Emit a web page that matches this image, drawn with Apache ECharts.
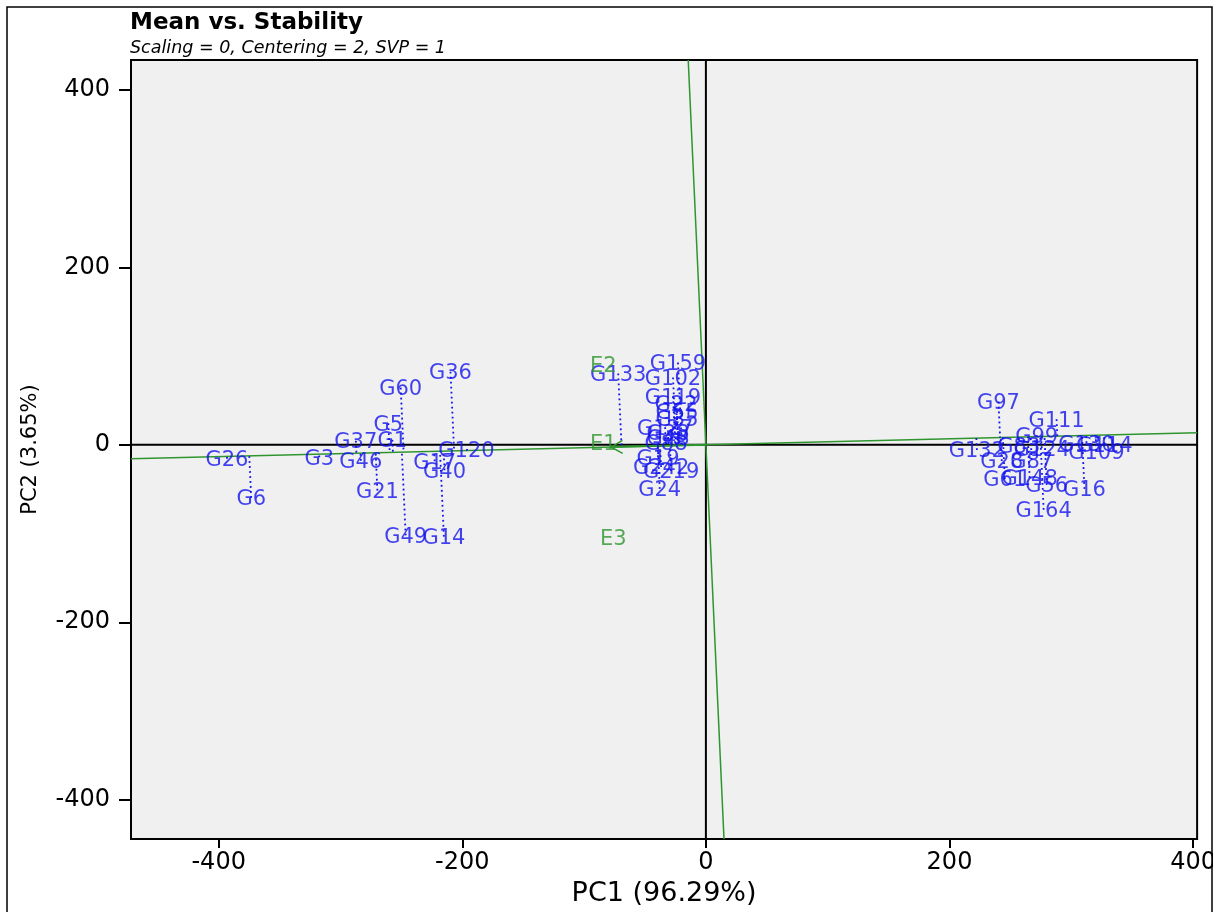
<!DOCTYPE html>
<html>
<head>
<meta charset="utf-8">
<script src="https://cdn.jsdelivr.net/npm/echarts@6/dist/echarts.min.js"></script>
<style>html,body{margin:0;padding:0;background:#fff;}#chart{width:1219px;height:912px;}</style>
</head>
<body>
<div id="chart"></div>
<script>
// ---- data ----
const genoNames = ['G36','G60','G5','G37','G1','G26','G6','G3','G46','G21','G120','G17','G40','G49','G14',
  'G159','G133','G102','G119','G22','G55','G35','G127','G38','G48','G88','G19','G242','G219','G24',
  'G97','G111','G99','G132','G83','G124','G130','G114','G109','G28','G87','G61','G148','G56','G16','G164'];
const genoPC1 = [-209.7,-250.6,-260.7,-287.4,-257.4,-393.2,-373.3,-317.4,-283.3,-269.7,-196.6,-222.7,-214.6,-246.5,-215.1,
  -22.9,-72.0,-27.0,-27.0,-24.5,-23.7,-23.7,-33.5,-31.1,-31.1,-32.7,-39.3,-36.8,-28.6,-37.9,
  240.2,287.9,271.6,222.5,256.9,275.7,312.5,327.2,320.6,242.9,267.5,245.4,265.8,279.8,310.8,277.3];
const genoPC2 = [82.3,64.4,24.3,4.5,5.6,-15.7,-59.8,-14.1,-17.9,-51.6,-4.8,-18.6,-28.7,-102.1,-103.5,
  92.7,80.4,75.9,54.6,46.8,37.8,29.9,19.8,14.2,8.6,3.0,-13.8,-25.0,-29.5,-49.7,
  48.7,28.8,10.9,-5.9,-0.3,-3.7,1.9,0.8,-7.1,-18.3,-17.2,-38.5,-37.3,-45.2,-49.7,-73.2];
const envNames = ['E1','E2','E3'];
const envPC1 = [-84.3,-84.3,-76.1];
const envPC2 = [3.0,90.5,-104.0];
const aec = [-77.7,-2.6];           // average environment coordinate (arrow tip)
const xTicks = [-400,-200,0,200,400];
const yTicks = [-400,-200,0,200,400];
const xMin = -472, xMax = 403.3, yMin = -444.4, yMax = 433.7;

// ---- derived geometry ----
const s = aec[1] / aec[0];  // slope of AEC abscissa
const abscissa = [[xMin, s * xMin], [xMax, s * xMax]];
const ordinate = [[-s * yMax, yMax], [-s * yMin, yMin]];
const proj = genoNames.map((n, i) => {
  const t = (genoPC1[i] + s * genoPC2[i]) / (1 + s * s);
  return { coords: [[genoPC1[i], genoPC2[i]], [t, s * t]] };
});
const genoPts = genoNames.map((n, i) => ({ name: n, value: [genoPC1[i], genoPC2[i]] }));
const envPts = envNames.map((n, i) => ({ name: n, value: [envPC1[i], envPC2[i]] }));

const BLUE = '#1414ee', GREEN = '#2f962f', FONT = 'DejaVu Sans';

const chart = echarts.init(document.getElementById('chart'), null, { renderer: 'canvas' });
chart.setOption({
  animation: false,
  backgroundColor: '#ffffff',
  title: {
    text: 'Mean vs. Stability',
    subtext: 'Scaling = 0, Centering = 2, SVP = 1',
    left: 130, top: 12, itemGap: 4, padding: 0,
    textStyle: { fontFamily: FONT, fontSize: 23, fontWeight: 'bold', color: '#000' },
    subtextStyle: { fontFamily: FONT, fontSize: 17.5, fontStyle: 'italic', color: '#000' }
  },
  grid: { left: 131, right: 18, top: 60, bottom: 69, show: true, backgroundColor: '#f0f0f0', borderColor: '#000', borderWidth: 2 },
  xAxis: {
    type: 'value', min: xMin, max: xMax,
    name: 'PC1 (96.29%)', nameLocation: 'middle', nameGap: 35,
    nameTextStyle: { fontFamily: FONT, fontSize: 27, color: '#000' },
    axisLine: { show: false, onZero: false },
    splitLine: { show: false },
    axisTick: { show: true, length: 9, customValues: xTicks, lineStyle: { color: '#000', width: 2 } },
    axisLabel: { customValues: xTicks, fontFamily: FONT, fontSize: 24, color: '#000', margin: 12 }
  },
  yAxis: {
    type: 'value', min: yMin, max: yMax,
    name: 'PC2 (3.65%)', nameLocation: 'middle', nameGap: 90,
    nameTextStyle: { fontFamily: FONT, fontSize: 21, color: '#000' },
    axisLine: { show: false, onZero: false },
    splitLine: { show: false },
    axisTick: { show: true, length: 12, customValues: yTicks, lineStyle: { color: '#000', width: 2 } },
    axisLabel: { customValues: yTicks, fontFamily: FONT, fontSize: 24, color: '#000', margin: 21 }
  },
  graphic: [
    { type: 'rect', z: 100, shape: { x: 7, y: 7, width: 1205, height: 920 }, style: { fill: null, stroke: '#000', lineWidth: 1.5 } },
    { type: 'rect', z: 99, shape: { x: 1213, y: 0, width: 10, height: 912 }, style: { fill: '#fff' } }
  ],
  series: [
    { type: 'line', data: [[xMin, 0], [xMax, 0]], symbol: 'none', z: 2, silent: true,
      lineStyle: { color: '#000', width: 2 } },
    { type: 'line', data: [[0, yMin], [0, yMax]], symbol: 'none', z: 2, silent: true,
      lineStyle: { color: '#000', width: 2 } },
    { type: 'line', data: abscissa, symbol: 'none', z: 3, silent: true,
      lineStyle: { color: GREEN, width: 1.5 } },
    { type: 'line', data: ordinate, symbol: 'none', z: 3, silent: true,
      lineStyle: { color: GREEN, width: 1.5 } },
    { type: 'lines', coordinateSystem: 'cartesian2d', data: proj, z: 4, silent: true,
      lineStyle: { color: BLUE, width: 1.8, type: [1.8, 3.2], opacity: 1 } },
    { type: 'custom', z: 5, silent: true, data: [[aec[0], aec[1]]],
      renderItem: function (params, api) {
        const o = api.coord([0, 0]);
        const p = api.coord([api.value(0), api.value(1)]);
        const ang = Math.atan2(o[1] - p[1], o[0] - p[0]);
        const L = 13, a = Math.PI / 6;
        const h1 = [p[0] + L * Math.cos(ang + a), p[1] + L * Math.sin(ang + a)];
        const h2 = [p[0] + L * Math.cos(ang - a), p[1] + L * Math.sin(ang - a)];
        return { type: 'group', children: [
          { type: 'line', shape: { x1: o[0], y1: o[1], x2: p[0], y2: p[1] }, style: { stroke: GREEN, lineWidth: 2 } },
          { type: 'polyline', shape: { points: [h1, p, h2] }, style: { stroke: GREEN, lineWidth: 1.5, fill: null } }
        ] };
      }
    },
    { type: 'scatter', data: genoPts, symbolSize: 1, z: 6, silent: true,
      itemStyle: { color: 'rgba(0,0,0,0)' },
      label: { show: true, position: 'inside', offset: [0, 2], formatter: '{b}', fontFamily: FONT, fontSize: 21, color: BLUE } },
    { type: 'scatter', data: envPts, symbolSize: 1, z: 6, silent: true,
      itemStyle: { color: 'rgba(0,0,0,0)' },
      label: { show: true, position: 'inside', offset: [0, 2], formatter: '{b}', fontFamily: FONT, fontSize: 21, color: GREEN } }
  ]
});
</script>
</body>
</html>
